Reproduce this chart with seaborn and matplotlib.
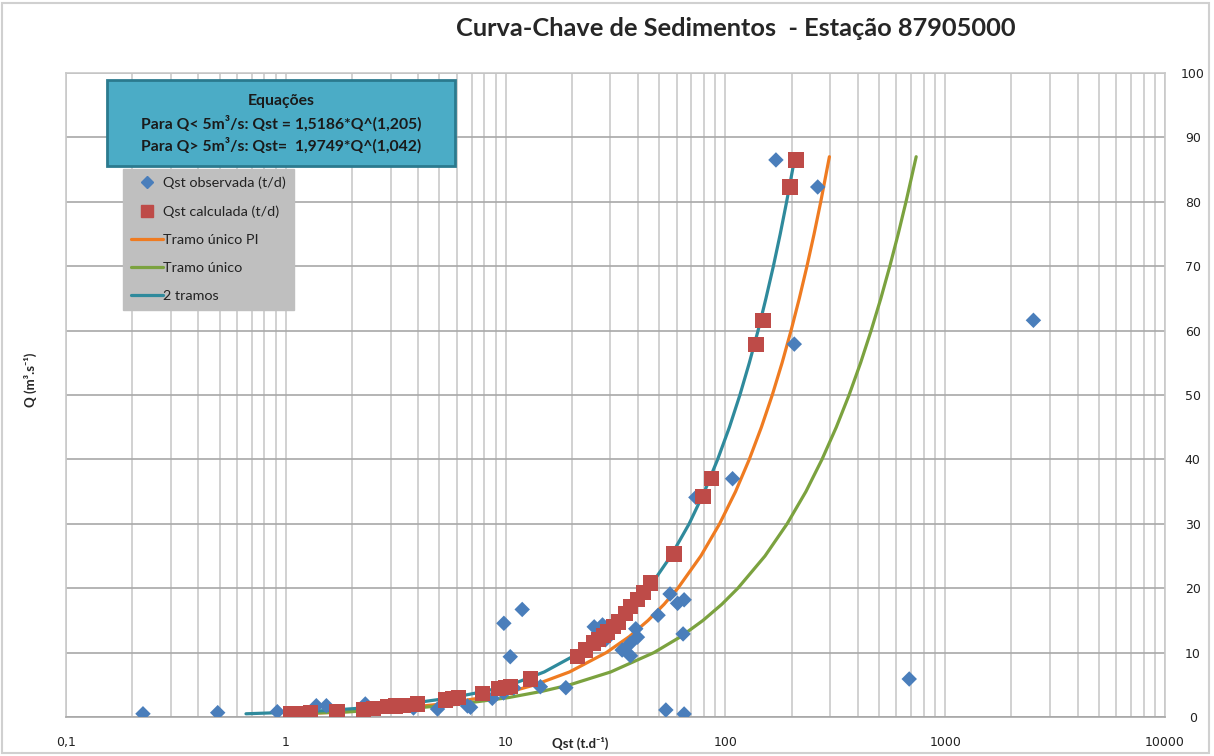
import matplotlib
matplotlib.use("Agg")
import matplotlib.pyplot as plt
import matplotlib.patches as patches
from matplotlib.lines import Line2D
from matplotlib.ticker import LogLocator, FixedLocator, FixedFormatter, NullFormatter
import seaborn as sns
import pandas as pd

# observed points (Qst t/d, Q m3/s)
obs_qst = [0.224, 0.49, 0.915, 1.377, 1.53, 2.30, 3.81, 4.90, 6.71, 6.93, 8.70, 9.79, 10.9,
           9.82, 11.9, 10.5, 14.4, 18.8, 25.3, 27.6, 28.5, 33.9, 36.8, 37.0, 39.1, 39.8,
           49.4, 56.0, 60.6, 64.9, 64.2, 53.6, 64.9, 73.4, 107.8, 169.8, 263, 205.8, 686, 2520]
obs_q = [0.5, 0.67, 0.82, 1.75, 1.75, 2.02, 1.40, 1.24, 1.71, 1.51, 2.90, 3.73, 4.5,
         14.55, 16.7, 9.36, 4.7, 4.55, 14.0, 14.3, 12.0, 10.4, 11.4, 9.5, 13.7, 12.4,
         15.8, 19.1, 17.65, 18.2, 12.9, 1.09, 0.47, 34.1, 37.0, 86.5, 82.3, 57.9, 5.9, 61.6]

# calculated points
calc_qst = [1.048, 1.164, 1.293, 1.711, 2.262, 2.512, 2.891, 3.154, 3.441, 3.961, 5.33, 5.72,
            6.13, 7.83, 9.32, 10.0, 10.54, 13.0, 21.2, 23.1, 25.2, 26.5, 28.0, 29.2, 31.0,
            32.7, 35.2, 37.1, 39.9, 42.5, 45.8, 58.3, 79.0, 86.8, 137.7, 148.2, 196.7, 209.5]
calc_q = [0.47, 0.47, 0.67, 0.82, 1.09, 1.35, 1.6, 1.71, 1.75, 2.02, 2.64, 2.9,
          3.06, 3.68, 4.46, 4.61, 4.7, 5.9, 9.36, 10.4, 11.5, 12.0, 12.6, 13.2, 14.0,
          14.75, 16.1, 17.1, 18.2, 19.3, 20.8, 25.3, 34.2, 37.0, 57.9, 61.6, 82.3, 86.5]

# curves
curve_q = [0.5, 0.75, 1, 1.5, 2, 3, 4, 5, 7, 10, 12.5, 15, 17.5, 20, 25, 30, 35, 40, 45,
           50, 55, 60, 65, 70, 75, 80, 87]
pi_qst = [1.13, 1.75, 2.39, 3.67, 5.05, 7.83, 10.7, 13.6, 19.55, 28.7, 36.6, 44.5, 52.6,
          60.8, 77.3, 94.1, 111.2, 128.4, 145.8, 163.4, 181.1, 198.9, 216.9, 235.0, 253.2,
          271.5, 297.3]
unico_qst = [1.05, 1.76, 2.54, 4.21, 6.13, 10.25, 14.7, 19.6, 30.1, 47.3, 62.8, 79.1, 96.3,
             114.0, 151.4, 190.9, 232.4, 275.1, 319.5, 365.3, 412.3, 460.2, 509.6, 559.8,
             611.1, 663.2, 737.9]
dois_qst = [0.659, 1.074, 1.519, 2.476, 3.50, 5.71, 8.07, 10.56, 15.0, 21.76, 27.45, 33.2,
            39.0, 44.8, 56.5, 68.4, 80.3, 92.2, 104.3, 116.4, 128.5, 140.8, 152.9, 165.3,
            177.6, 189.9, 207.3]

x_ticks = [0.1, 1, 10, 100, 1000, 10000]
x_labels = ["0,1", "1", "10", "100", "1000", "10000"]
y_ticks = list(range(0, 101, 10))

c_obs = "#4a7ebb"
c_calc = "#be4b48"
c_pi = "#ef7b21"
c_unico = "#7ba23f"
c_dois = "#2f8a9c"

sns.set_style("white")
plt.rcParams['font.family'] = ['Lato', 'DejaVu Sans']

fig = plt.figure(figsize=(12.14, 7.56), dpi=100)
ax = fig.add_axes([66 / 1214, 1 - 717 / 756, 1099 / 1214, 644 / 756])

curves = pd.DataFrame({"Q": curve_q * 3,
                       "Qst": pi_qst + unico_qst + dois_qst,
                       "serie": ["Tramo único PI"] * len(curve_q) + ["Tramo único"] * len(curve_q)
                                + ["2 tramos"] * len(curve_q)})
sns.lineplot(data=curves, x="Qst", y="Q", hue="serie", sort=False, estimator=None,
             palette={"Tramo único PI": c_pi, "Tramo único": c_unico, "2 tramos": c_dois},
             linewidth=2.3, ax=ax, legend=False, zorder=3)
sns.scatterplot(x=obs_qst, y=obs_q, marker="D", s=62, color=c_obs, edgecolor="none", ax=ax, zorder=4)
sns.scatterplot(x=calc_qst, y=calc_q, marker="s", s=120, color=c_calc, edgecolor="none", ax=ax, zorder=5)

ax.set_xscale("log")
ax.set_xlim(0.1, 10000)
ax.set_ylim(0, 100)
ax.xaxis.set_major_locator(FixedLocator(x_ticks))
ax.xaxis.set_major_formatter(FixedFormatter(x_labels))
ax.xaxis.set_minor_locator(LogLocator(base=10, subs=range(2, 10)))
ax.xaxis.set_minor_formatter(NullFormatter())
ax.set_yticks(y_ticks)
ax.yaxis.tick_right()
ax.grid(which="major", axis="x", color="#c9c9c9", linewidth=1.2)
ax.grid(which="minor", axis="x", color="#c9c9c9", linewidth=1.2)
ax.grid(which="major", axis="y", color="#a8a8a8", linewidth=1.2)
ax.set_axisbelow(True)
ax.tick_params(axis="both", which="both", length=0, labelsize=9, colors="#222222")
ax.tick_params(axis="x", pad=14)
ax.tick_params(axis="y", pad=20)
for t in ax.get_xticklabels() + ax.get_yticklabels():
    t.set_fontfamily("DejaVu Sans")
for t in ax.get_yticklabels():
    t.set_ha("center")
for s in ax.spines.values():
    s.set_color("#c9c9c9")
    s.set_linewidth(1.2)
ax.spines["bottom"].set_color("#a8a8a8")
ax.set_xlabel("")
ax.set_ylabel("")

fig.text(736 / 1214, 1 - 28 / 756, "Curva-Chave de Sedimentos  - Estação 87905000",
         ha="center", va="center", fontsize=18.3, fontweight="bold")
fig.text(580 / 1214, 1 - 743 / 756, "Qst (t.d⁻¹)", ha="center", va="center",
         fontsize=9.5, fontweight="bold")
fig.text(30 / 1214, 1 - 380 / 756, "Q (m³.s⁻¹)", ha="center", va="center",
         rotation=90, fontsize=9.5, fontweight="bold")

# equations box
fig.add_artist(patches.Rectangle((107 / 1214, 1 - 166 / 756), 348 / 1214, 86 / 756,
                                 transform=fig.transFigure, facecolor="#4bacc6",
                                 edgecolor="#2b7a8e", linewidth=2, zorder=10))
eq_lines = ["Equações", "Para Q< 5m³/s: Qst = 1,5186*Q^(1,205)", "Para Q> 5m³/s: Qst=  1,9749*Q^(1,042)"]
for i, txt in enumerate(eq_lines):
    fig.text(281 / 1214, 1 - (101 + 22 * i) / 756, txt, ha="center", va="center",
             fontsize=11.3, fontweight="bold", color="#1a1a1a", zorder=11)

handles = [
    Line2D([], [], linestyle="none", marker="D", markersize=6.5, color=c_obs),
    Line2D([], [], linestyle="none", marker="s", markersize=8.5, color=c_calc),
    Line2D([], [], color=c_pi, linewidth=2.3),
    Line2D([], [], color=c_unico, linewidth=2.3),
    Line2D([], [], color=c_dois, linewidth=2.3),
]
labels = ["Qst observada (t/d)", "Qst calculada (t/d)", "Tramo único PI", "Tramo único", "2 tramos"]
leg = ax.legend(handles, labels, loc="upper left", bbox_to_anchor=((123 - 66) / 1099, (717 - 169) / 644),
                frameon=True, facecolor="#bfbfbf", edgecolor="#bfbfbf", fancybox=False,
                fontsize=10.4, labelspacing=1.1, handlelength=2.2, handletextpad=0.05,
                borderpad=0.55, borderaxespad=0, framealpha=1)
leg.set_zorder(12)
for t in leg.get_texts():
    t.set_color("#222222")

fig.add_artist(patches.Rectangle((0.002, 0.004), 0.994, 0.992, transform=fig.transFigure,
                                 fill=False, edgecolor="#d0d0d0", linewidth=1.5))

fig.savefig("out.png", dpi=100)
